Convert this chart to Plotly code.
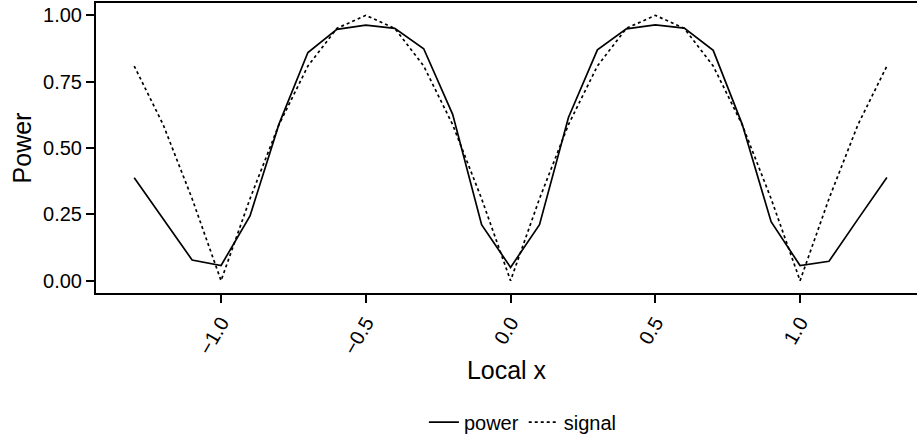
import plotly.graph_objects as go

x_vals = [-1.3, -1.2, -1.1, -1.0, -0.9, -0.8, -0.7, -0.6, -0.5, -0.4, -0.3, -0.2, -0.1,
          0.0, 0.1, 0.2, 0.3, 0.4, 0.5, 0.6, 0.7, 0.8, 0.9, 1.0, 1.1, 1.2, 1.3]
power = [0.388, 0.232, 0.078, 0.057, 0.244, 0.590, 0.860, 0.947, 0.963, 0.951, 0.874, 0.627, 0.211,
         0.050, 0.211, 0.615, 0.870, 0.949, 0.964, 0.952, 0.868, 0.590, 0.222, 0.057, 0.073, 0.232, 0.389]
signal = [0.809, 0.588, 0.309, 0.0, 0.309, 0.588, 0.809, 0.951, 1.0, 0.951, 0.809, 0.588, 0.309,
          0.0, 0.309, 0.588, 0.809, 0.951, 1.0, 0.951, 0.809, 0.588, 0.309, 0.0, 0.309, 0.588, 0.809]

x_ticks = [-1.0, -0.5, 0.0, 0.5, 1.0]
x_ticklabels = ["\u22121.0", "\u22120.5", "0.0", "0.5", "1.0"]
y_ticks = [0.0, 0.25, 0.5, 0.75, 1.0]
y_ticklabels = ["0.00", "0.25", "0.50", "0.75", "1.00"]

FONT = "Liberation Sans, Arial, sans-serif"

fig = go.Figure()
fig.add_trace(go.Scatter(x=x_vals, y=power, mode="lines", name="power",
                         line=dict(color="black", width=1.7, dash="solid")))
fig.add_trace(go.Scatter(x=x_vals, y=signal, mode="lines", name="signal",
                         line=dict(color="black", width=1.7, dash="dot")))

fig.update_layout(
    width=917, height=444,
    margin=dict(l=96, r=0, t=3, b=151),
    paper_bgcolor="white", plot_bgcolor="white",
    font=dict(family=FONT, color="black", size=20),
    showlegend=True,
    legend=dict(orientation="h", x=0.52, xanchor="center", y=-0.445, yanchor="middle",
                font=dict(size=20, family=FONT), itemwidth=30, bgcolor="rgba(0,0,0,0)",
                tracegroupgap=0),
)
fig.update_xaxes(
    range=[-1.432, 1.404], tickvals=x_ticks, ticktext=x_ticklabels,
    tickangle=-60, ticks="outside", ticklen=8, tickwidth=1.5, tickcolor="black",
    showline=True, linecolor="black", linewidth=2, mirror=True,
    showgrid=False, zeroline=False,
    tickfont=dict(size=20, family=FONT),
    title=dict(text="Local x", font=dict(size=25, family=FONT), standoff=4),
    automargin=False,
)
fig.update_yaxes(
    range=[-0.0465, 1.0465], tickvals=y_ticks, ticktext=y_ticklabels,
    ticks="outside", ticklen=8, tickwidth=1.5, tickcolor="black",
    showline=True, linecolor="black", linewidth=2, mirror=False,
    showgrid=False, zeroline=False,
    tickfont=dict(size=20, family=FONT),
    title=dict(text="Power", font=dict(size=25, family=FONT), standoff=4),
    automargin=False,
)

fig.write_html("out.html", config={"displayModeBar": False},
               post_script="document.body.style.margin='0';")
